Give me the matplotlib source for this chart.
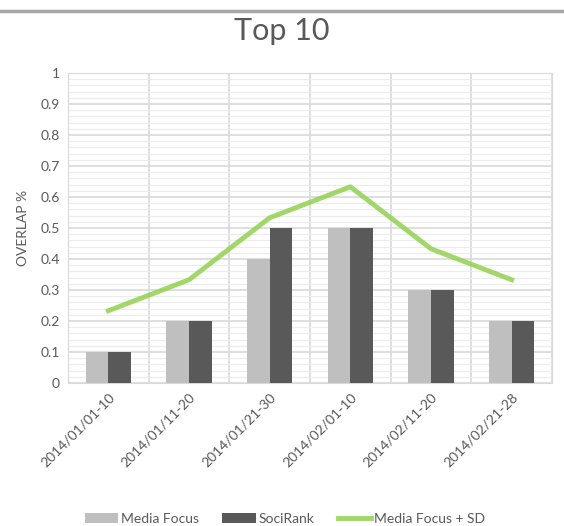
import numpy as np
import matplotlib
matplotlib.use("Agg")
import matplotlib.pyplot as plt
from matplotlib.ticker import MultipleLocator

periods = ["2014/01/01-10", "2014/01/11-20", "2014/01/21-30",
           "2014/02/01-10", "2014/02/11-20", "2014/02/21-28"]
media_focus = [0.1, 0.2, 0.4, 0.5, 0.3, 0.2]
socirank = [0.1, 0.2, 0.5, 0.5, 0.3, 0.2]
media_focus_sd = [0.233, 0.333, 0.533, 0.633, 0.433, 0.333]

plt.rcParams['font.family'] = ['Lato', 'DejaVu Sans']

fig = plt.figure(figsize=(5.64, 5.26), dpi=100)
ax = fig.add_axes([68/564, 1-383/526, 484/564, 310/526])

x = np.arange(len(periods))
w = 0.28
b1 = ax.bar(x - w/2, media_focus, w, color='#bfbfbf', label='Media Focus', zorder=3)
b2 = ax.bar(x + w/2, socirank, w, color='#595959', label='SociRank', zorder=3)
l1, = ax.plot(x, media_focus_sd, color='#92d050', lw=3.5, alpha=0.85,
              label='Media Focus + SD', zorder=4)

ax.set_xlim(-0.5, len(periods) - 0.5)
ax.set_ylim(0, 1)
ax.yaxis.set_minor_locator(MultipleLocator(0.02))
ax.set_yticks(np.arange(0, 1.01, 0.1))
ax.set_yticklabels(['0', '0.1', '0.2', '0.3', '0.4', '0.5', '0.6', '0.7', '0.8', '0.9', '1'])
ax.set_xticks(x)
ax.set_xticklabels(periods, rotation=45, ha='right', rotation_mode='anchor')
ax.set_xticks(np.arange(-0.5, len(periods)), minor=True)

ax.grid(which='major', axis='y', color='#d9d9d9', lw=1.2, zorder=0)
ax.grid(which='minor', axis='y', color='#ececec', lw=0.8, zorder=0)
ax.grid(which='minor', axis='x', color='#d9d9d9', lw=1.2, zorder=0)
ax.tick_params(which='both', length=0, labelsize=10, colors='#595959', pad=6)
for s in ax.spines.values():
    s.set_color('#d9d9d9')

ax.set_ylabel('OVERLAP %', fontsize=10, color='#595959', labelpad=8)
fig.text(0.5, 1 - 31/526, 'Top 10', ha='center', va='center',
         fontsize=22, color='#595959')

# top border line
fig.add_artist(plt.Line2D([0, 1], [1 - 11/526, 1 - 11/526], color='#a6a6a6', lw=2.5))

ax.legend([b1, b2, l1], ['Media Focus', 'SociRank', 'Media Focus + SD'],
          loc='center', bbox_to_anchor=(0.448, -0.438), ncol=3, frameon=False,
          fontsize=10, handlelength=2.4, handleheight=0.8, columnspacing=1.7,
          handletextpad=0.2, labelcolor='#595959')

fig.savefig('out.png', dpi=100)
